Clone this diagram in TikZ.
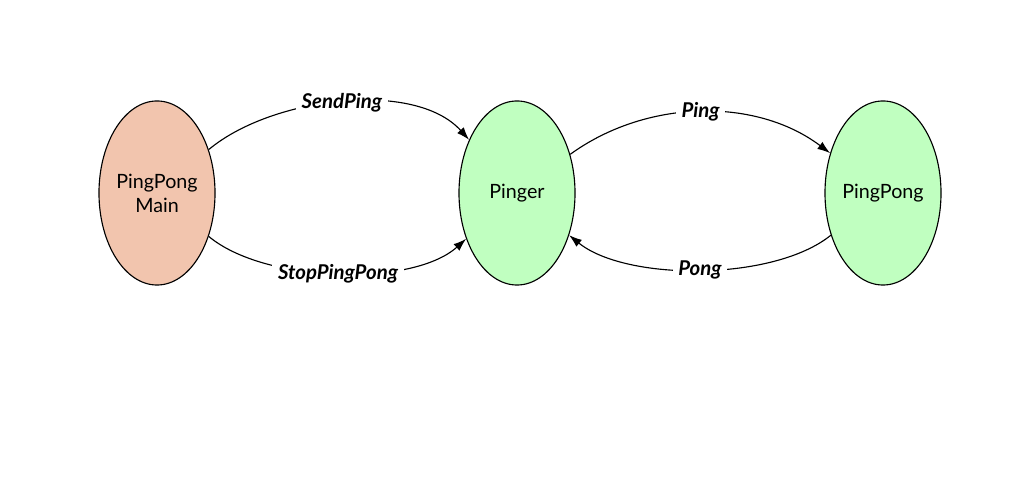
\documentclass[tikz,border=0pt]{standalone}
\usepackage{fontspec}
\setmainfont{Lato}
\usetikzlibrary{shapes.geometric, arrows.meta}

\definecolor{salmon}{HTML}{F2C5AE}
\definecolor{mint}{HTML}{C0FFC0}

\tikzset{
    actor/.style={ellipse, draw, line width=0.8pt, minimum width=2.9cm, minimum height=4.6cm,
        align=center, font=\fontsize{14}{17}\selectfont, inner sep=0pt},
    msg/.style={-{Latex[length=3.2mm, width=2.2mm]}, line width=0.8pt},
    lbl/.style={fill=white, inner sep=4pt, font=\fontsize{14.5}{17}\selectfont\bfseries\itshape}
}

\begin{document}
\begin{tikzpicture}[x=0.025cm, y=-0.025cm]
            \useasboundingbox (0, 0) rectangle (1024, 503);

            \node[actor, fill=salmon] at (157, 193)   (main)     {PingPong\\Main};
            \node[actor, fill=mint]   at (517, 193)   (pinger)   {Pinger};
            \node[actor, fill=mint]   at (883, 193)   (pingpong) {PingPong};

            \draw[msg] (main) to[out=40, in=132, looseness=0.8] node[lbl] {SendPing} (pinger);
            \draw[msg] (main) to[out=-40, in=-138, looseness=0.72] node[lbl] {StopPingPong} (pinger);
            \draw[msg] (pinger) to[out=36, in=143, looseness=0.92] node[lbl] {Ping} (pingpong);
            \draw[msg] (pingpong) to[out=-141, in=-39, looseness=0.72] node[lbl] {Pong} (pinger);
        \end{tikzpicture}
\end{document}
